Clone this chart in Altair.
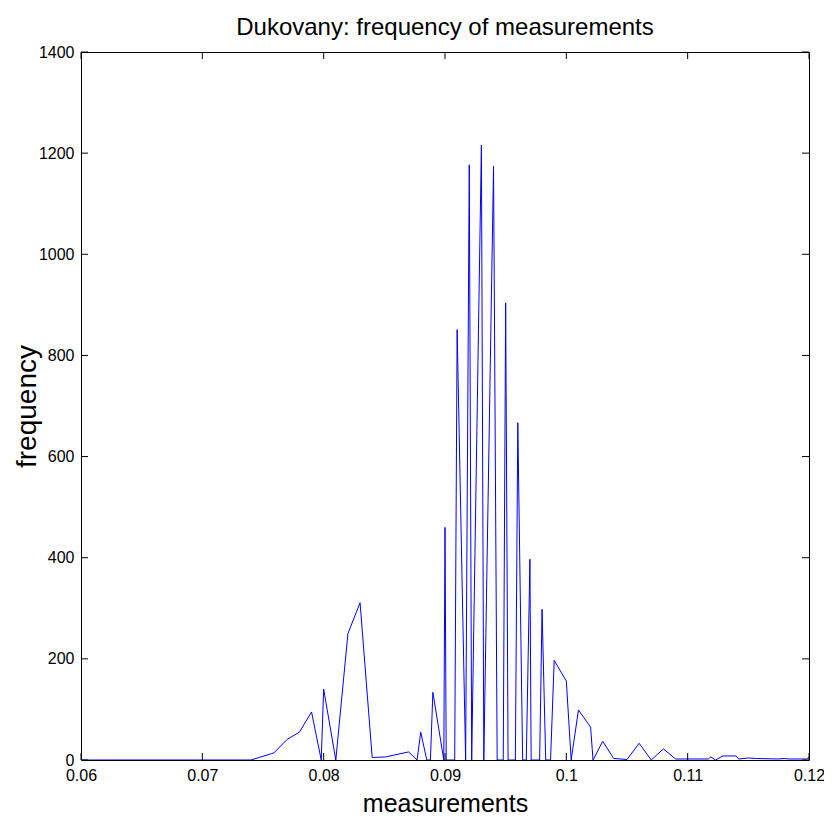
import altair as alt
import pandas as pd

measurements = [0.06, 0.074, 0.0759, 0.077, 0.078, 0.079, 0.0798, 0.080, 0.081, 0.082,
                0.083, 0.084, 0.0851, 0.087, 0.0877, 0.088, 0.0885, 0.0888, 0.089, 0.0899,
                0.090, 0.0901, 0.0908, 0.091, 0.0917, 0.092, 0.0922, 0.093, 0.0932, 0.094,
                0.0943, 0.0948, 0.095, 0.0952, 0.0958, 0.096, 0.0964, 0.0967, 0.097, 0.0971,
                0.0978, 0.098, 0.0983, 0.0987, 0.099, 0.100, 0.1004, 0.101, 0.102, 0.1022,
                0.103, 0.1039, 0.105, 0.106, 0.107, 0.108, 0.109, 0.1117, 0.1119, 0.1123,
                0.1129, 0.114, 0.1142, 0.115, 0.1156, 0.1175, 0.118, 0.1183, 0.1198, 0.12]
frequency = [0, 0, 14, 41, 55, 95, 0, 140, 0, 250,
             311, 5, 6, 16, 0, 55, 0, 0, 134, 0,
             460, 0, 0, 851, 0, 1177, 0, 1216, 0, 1174,
             0, 0, 904, 0, 0, 667, 0, 0, 397, 0,
             0, 298, 0, 0, 197, 156, 0, 99, 65, 0,
             37, 3, 1, 33, 0, 22, 2, 2, 6, 0,
             8, 8, 2, 4, 3, 2, 3, 2, 2, 5]

x_ticks = [0.06, 0.07, 0.08, 0.09, 0.10, 0.11, 0.12]
y_ticks = [0, 200, 400, 600, 800, 1000, 1200, 1400]

FONT = "Liberation Sans"
W, H = 728, 708
TICK = 7

df = pd.DataFrame({"m": measurements, "f": frequency})
xt = pd.DataFrame({"t": x_ticks})
yt = pd.DataFrame({"t": y_ticks})

xscale = alt.Scale(domain=[0.06, 0.12], nice=False, zero=False)
yscale = alt.Scale(domain=[0, 1400], nice=False)

line = alt.Chart(df).mark_line(color="#0000ff", strokeWidth=1, clip=True).encode(
    x=alt.X("m:Q", scale=xscale,
            axis=alt.Axis(values=x_ticks, format="~g", title="measurements",
                          ticks=False, domain=False, grid=False,
                          labelFlush=False, labelOverlap=False,
                          labelFont=FONT, labelFontSize=16, labelColor="black",
                          labelPadding=7, titleFont=FONT, titleFontSize=25,
                          titleFontWeight="normal", titleColor="black",
                          titleY=51, titleBaseline="alphabetic")),
    y=alt.Y("f:Q", scale=yscale,
            axis=alt.Axis(values=y_ticks, format="d", title="frequency",
                          ticks=False, domain=False, grid=False,
                          labelFlush=False, labelOverlap=False,
                          labelFont=FONT, labelFontSize=16, labelColor="black",
                          labelPadding=7, titleFont=FONT, titleFontSize=28,
                          titleFontWeight="normal", titleColor="black",
                          titleX=-46, titleBaseline="alphabetic")),
    order="m:Q",
)

xb = alt.Chart(xt).mark_rule(color="black", strokeWidth=1).encode(
    x=alt.X("t:Q", scale=xscale), y=alt.value(H), y2=alt.value(H - TICK))
xtop = alt.Chart(xt).mark_rule(color="black", strokeWidth=1).encode(
    x=alt.X("t:Q", scale=xscale), y=alt.value(0), y2=alt.value(TICK))
yl = alt.Chart(yt).mark_rule(color="black", strokeWidth=1).encode(
    y=alt.Y("t:Q", scale=yscale), x=alt.value(0), x2=alt.value(TICK))
yr = alt.Chart(yt).mark_rule(color="black", strokeWidth=1).encode(
    y=alt.Y("t:Q", scale=yscale), x=alt.value(W), x2=alt.value(W - TICK))

chart = alt.layer(line, xb, xtop, yl, yr).properties(
    width=W, height=H,
    background="white",
    title=alt.TitleParams("Dukovany: frequency of measurements", font=FONT, fontSize=24,
                          fontWeight="normal", color="black", anchor="middle", offset=4),
    autosize=alt.AutoSizeParams(type="none"),
    padding={"left": 73, "top": 44, "right": 15, "bottom": 57},
).configure_view(stroke="black", strokeWidth=1)

chart.save("out.html", embed_options={"renderer": "svg", "actions": False})
